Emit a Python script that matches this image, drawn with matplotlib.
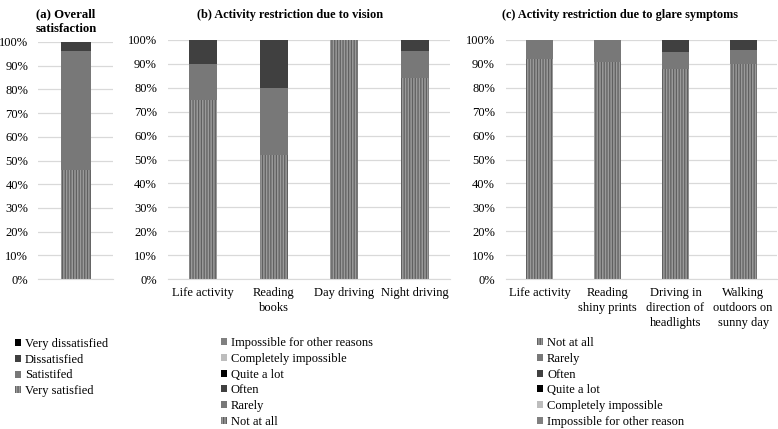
import matplotlib
matplotlib.use('Agg')
import matplotlib.pyplot as plt
from matplotlib.patches import Patch
from matplotlib.ticker import PercentFormatter
import numpy as np

plt.rcParams['font.family'] = ['Liberation Serif', 'DejaVu Serif']
plt.rcParams['hatch.linewidth'] = 0.9

# (a) overall satisfaction, bottom to top
SAT_LABELS = ['Very satisfied', 'Satistifed', 'Dissatisfied', 'Very dissatisfied']
SAT_VALUES = [46, 50, 4, 0]

# (b) activity restriction due to vision
VISION_CATS = ['Life activity', 'Reading\nbooks', 'Day driving', 'Night driving']
VISION_NOT_AT_ALL = [75, 52, 100, 84]
VISION_RARELY = [15, 28, 0, 11.5]
VISION_OFTEN = [10, 20, 0, 4.5]
VISION_QUITE = [0, 0, 0, 0]
VISION_COMPLETELY = [0, 0, 0, 0]
VISION_OTHER = [0, 0, 0, 0]

# (c) activity restriction due to glare symptoms
GLARE_CATS = ['Life activity', 'Reading\nshiny prints', 'Driving in\ndirection of\nheadlights',
              'Walking\noutdoors on\nsunny day']
GLARE_NOT_AT_ALL = [92, 91, 88, 90]
GLARE_RARELY = [8, 9, 7, 6]
GLARE_OFTEN = [0, 0, 5, 4]
GLARE_QUITE = [0, 0, 0, 0]
GLARE_COMPLETELY = [0, 0, 0, 0]
GLARE_OTHER = [0, 0, 0, 0]

HATCH_FACE = '#9a9a9a'
HATCH_LINE = '#606060'
MID_GREY = '#787878'
DARK_GREY = '#404040'
BLACK = '#000000'
LIGHT_GREY = '#bdbdbd'
OTHER_GREY = '#808080'
GRID = '#d9d9d9'

STYLE_HATCH = dict(color=HATCH_FACE, hatch='||||||', edgecolor=HATCH_LINE)


def style(face):
    return dict(color=face, edgecolor=face)


def setup_axis(ax, n, ypad=8):
    ax.set_xlim(-0.5, n - 0.5)
    ax.set_ylim(0, 100)
    ax.set_yticks(np.arange(0, 101, 10))
    ax.yaxis.set_major_formatter(PercentFormatter(decimals=0))
    ax.grid(axis='y', color=GRID, linewidth=0.9)
    ax.set_axisbelow(True)
    for s in ['top', 'right', 'left']:
        ax.spines[s].set_visible(False)
    ax.spines['bottom'].set_color(GRID)
    ax.tick_params(length=0, labelsize=9)
    ax.tick_params(axis='y', pad=ypad)
    ax.tick_params(axis='x', pad=6)


def stack(ax, x, series, width=0.4):
    bottom = np.zeros(len(x))
    for vals, st in series:
        vals = np.array(vals, dtype=float)
        ax.bar(x, vals, width, bottom=bottom, linewidth=0, **st)
        bottom += vals


W, H = 778, 429
fig = plt.figure(figsize=(W / 100, H / 100), dpi=100)


def fax(x0, y0, x1, y1):
    return fig.add_axes((x0 / W, 1 - y1 / H, (x1 - x0) / W, (y1 - y0) / H))


# panel a
ax_a = fax(38, 42, 113, 279)
setup_axis(ax_a, 1, ypad=7)
stack(ax_a, [0], [([SAT_VALUES[0]], STYLE_HATCH), ([SAT_VALUES[1]], style(MID_GREY)),
                  ([SAT_VALUES[2]], style(DARK_GREY)), ([SAT_VALUES[3]], style(BLACK))])
ax_a.set_xticks([])

# panel b
ax_b = fax(168, 40, 450, 279)
setup_axis(ax_b, 4)
xb = np.arange(len(VISION_CATS))
stack(ax_b, xb, [(VISION_NOT_AT_ALL, STYLE_HATCH), (VISION_RARELY, style(MID_GREY)),
                 (VISION_OFTEN, style(DARK_GREY)), (VISION_QUITE, style(BLACK)),
                 (VISION_COMPLETELY, style(LIGHT_GREY)), (VISION_OTHER, style(OTHER_GREY))])
ax_b.set_xticks(xb)
ax_b.set_xticklabels(VISION_CATS, linespacing=1.3)

# panel c
ax_c = fax(506, 40, 777, 279)
setup_axis(ax_c, 4)
xc = np.arange(len(GLARE_CATS))
stack(ax_c, xc, [(GLARE_NOT_AT_ALL, STYLE_HATCH), (GLARE_RARELY, style(MID_GREY)),
                 (GLARE_OFTEN, style(DARK_GREY)), (GLARE_QUITE, style(BLACK)),
                 (GLARE_COMPLETELY, style(LIGHT_GREY)), (GLARE_OTHER, style(OTHER_GREY))])
ax_c.set_xticks(xc)
ax_c.set_xticklabels(GLARE_CATS, linespacing=1.3)

# titles
fig.text(66 / W, 1 - 22 / H, '(a) Overall\nsatisfaction', ha='center', va='center',
         multialignment='center', fontsize=9.2, fontweight='bold', linespacing=1.3)
fig.text(290 / W, 1 - 15 / H, '(b) Activity restriction due to vision', ha='center',
         va='center', fontsize=8.8, fontweight='bold')
fig.text(620 / W, 1 - 15 / H, '(c) Activity restriction due to glare symptoms', ha='center',
         va='center', fontsize=8.8, fontweight='bold')


def patch(st):
    return Patch(facecolor=st['color'], edgecolor=st['edgecolor'], hatch=st.get('hatch'),
                 linewidth=0)


leg_kw = dict(loc='upper left', frameon=False, fontsize=9, handlelength=0.5,
              handleheight=0.5, handletextpad=0.3, labelspacing=0.3, borderaxespad=0,
              borderpad=0)

fig.legend([patch(style(BLACK)), patch(style(DARK_GREY)), patch(style(MID_GREY)),
            patch(STYLE_HATCH)],
           ['Very dissatisfied', 'Dissatisfied', 'Satistifed', 'Very satisfied'],
           bbox_to_anchor=(15 / W, 1 - 338 / H), **leg_kw)

fig.legend([patch(style(OTHER_GREY)), patch(style(LIGHT_GREY)), patch(style(BLACK)),
            patch(style(DARK_GREY)), patch(style(MID_GREY)), patch(STYLE_HATCH)],
           ['Impossible for other reasons', 'Completely impossible', 'Quite a lot', 'Often',
            'Rarely', 'Not at all'],
           bbox_to_anchor=(221 / W, 1 - 337 / H), **leg_kw)

fig.legend([patch(STYLE_HATCH), patch(style(MID_GREY)), patch(style(DARK_GREY)),
            patch(style(BLACK)), patch(style(LIGHT_GREY)), patch(style(OTHER_GREY))],
           ['Not at all', 'Rarely', 'Often', 'Quite a lot', 'Completely impossible',
            'Impossible for other reason'],
           bbox_to_anchor=(537 / W, 1 - 337 / H), **leg_kw)

fig.savefig('out.png', dpi=100)
